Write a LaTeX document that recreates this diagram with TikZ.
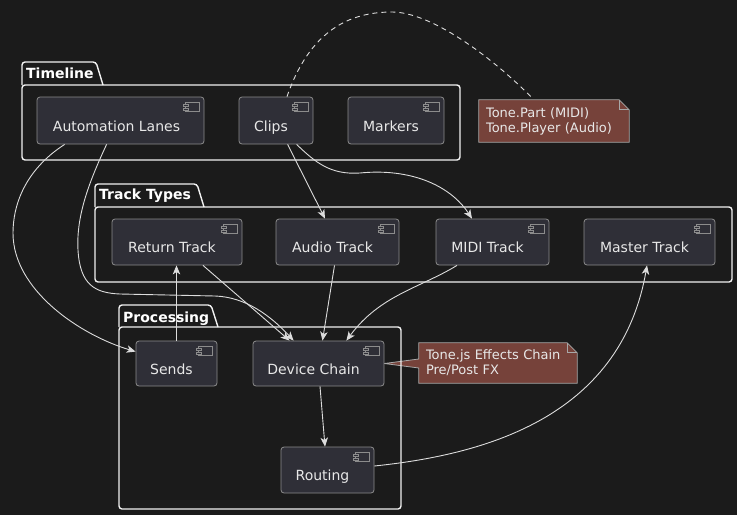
\documentclass[tikz,border=0pt]{standalone}
\usepackage{fontspec}
\setmainfont{DejaVu Sans}
\usetikzlibrary{arrows.meta,calc}
\definecolor{bgc}{HTML}{1B1B1B}
\definecolor{compfill}{HTML}{2F2F37}
\definecolor{compline}{HTML}{8C8C8C}
\definecolor{pkgline}{HTML}{F2F2F2}
\definecolor{edgec}{HTML}{DCDCDC}
\definecolor{notefill}{HTML}{76423A}
\definecolor{noteline}{HTML}{A8A8A8}
\definecolor{txtc}{HTML}{E8E8E8}
\pgfdeclarelayer{bglayer}
\pgfdeclarelayer{midlayer}
\pgfsetlayers{bglayer,midlayer,main}
\tikzset{
  comp/.style={draw=compline, fill=compfill, rounded corners=3pt, line width=0.8pt, inner sep=0pt},
  ctext/.style={text height=10pt, text depth=0pt, xshift=-5pt, yshift=-5.5pt, text=txtc, font=\fontsize{14}{16}\selectfont, inner sep=0pt},
  pkg/.style={draw=pkgline, line width=1.4pt, rounded corners=3pt},
  pkgtitle/.style={anchor=base west, inner sep=0pt, text=white, font=\fontsize{14}{16}\selectfont\bfseries},
  notetext/.style={inner xsep=7pt, inner ysep=0pt, align=left, text=txtc, font=\fontsize{13}{15}\selectfont},
  noteshape/.style={draw=noteline, fill=notefill, line width=0.8pt},
  edge/.style={draw=edgec, line width=0.9pt, -{Stealth[length=9pt,width=7.5pt,inset=2.5pt]}},
  link/.style={draw=edgec, line width=0.9pt, dash pattern=on 5pt off 4pt}
}
\newcommand\compicon[1]{%
  \draw[compline, line width=0.7pt, fill=compfill] ($(#1.north east)+(-19,6)$) rectangle ($(#1.north east)+(-5,15)$);
  \draw[compline, line width=0.7pt, fill=compfill] ($(#1.north east)+(-21.5,7.6)$) rectangle ($(#1.north east)+(-16.5,9.8)$);
  \draw[compline, line width=0.7pt, fill=compfill] ($(#1.north east)+(-21.5,11.3)$) rectangle ($(#1.north east)+(-16.5,13.5)$);
}
\begin{document}
\begin{tikzpicture}[x=1pt,y=-1pt]
\begin{pgfonlayer}{bglayer}
\fill[bgc] (0,0) rectangle (737,515);
\end{pgfonlayer}
\useasboundingbox (0,0) rectangle (737,515);

% packages
\draw[pkg] (22,85) -- (22,62) -- (96,62) -- (103,85);
\draw[pkg] (22,85) rectangle (460,160);
\node[pkgtitle] (ttl) at (26,78) {Timeline};

\draw[pkg] (95,207) -- (95,184) -- (197,184) -- (204,207);
\draw[pkg] (95,207) rectangle (732,282);
\node[pkgtitle] (ttt) at (99,199) {Track Types};

\draw[pkg] (119,327) -- (119,305) -- (211,305) -- (218,327);
\draw[pkg] (119,327) rectangle (401,509);
\node[pkgtitle] (tpr) at (123,322) {Processing};

% components
\node[comp, minimum width=167pt, minimum height=47pt, label={[ctext,xshift=1pt]center:Automation Lanes}] (al) at (120.5,120.5) {};
\node[comp, minimum width=74pt, minimum height=47pt, label={[ctext]center:Clips}] (clips) at (276,120.5) {};
\node[comp, minimum width=96pt, minimum height=47pt, label={[ctext]center:Markers}] (mark) at (396,120.5) {};

\node[comp, minimum width=130pt, minimum height=46pt, label={[ctext]center:Return Track}] (rt) at (177,242) {};
\node[comp, minimum width=123pt, minimum height=46pt, label={[ctext]center:Audio Track}] (at) at (337.5,242) {};
\node[comp, minimum width=113pt, minimum height=46pt, label={[ctext]center:MIDI Track}] (mt) at (492.5,242) {};
\node[comp, minimum width=131pt, minimum height=46pt, label={[ctext]center:Master Track}] (mst) at (649.5,242) {};

\node[comp, minimum width=81pt, minimum height=45pt, label={[ctext]center:Sends}] (sends) at (176.5,363.5) {};
\node[comp, minimum width=131pt, minimum height=45pt, label={[ctext]center:Device Chain}] (dc) at (318.5,363.5) {};
\node[comp, minimum width=93pt, minimum height=46pt, label={[ctext]center:Routing}] (rout) at (327.5,470) {};

\foreach \n in {al,clips,mark,rt,at,mt,mst,sends,dc,rout} {\compicon{\n}}

% edges
\draw[edge] ($(al.south west)+(28,0)$) .. controls (25,170) and (13,205) .. (13,233)
   .. controls (13,290) and (80,335) .. ($(sends.north west)+(0,11)$);
\draw[edge] ($(al.south west)+(70,0)$) .. controls (90,180) and (76,215) .. (78,250)
   .. controls (80,285) and (95,293) .. (120,294) -- (215,296)
   .. controls (245,297) and (270,315) .. ($(dc.north west)+(41,0)$);
\draw[edge] ($(clips.south west)+(49,0)$) -- ($(at.north)+(-12.5,0)$);
\draw[edge] ($(clips.south west)+(58,0)$) .. controls (315,162) and (330,175) .. (360,173)
   .. controls (410,168) and (450,185) .. ($(mt.north)+(-20.5,0)$);
\draw[edge] ($(rt.south)+(26,0)$) -- ($(dc.north west)+(37,0)$);
\draw[edge] ($(at.south)+(-3,0)$) -- ($(dc.north)+(4,0)$);
\draw[edge] ($(mt.south)+(-35.5,0)$) .. controls (420,288) and (380,295) .. ($(dc.north east)+(-38,0)$);
\draw[edge] (sends.north) -- (sends.north |- rt.south);
\draw[edge] ($(dc.south)+(1.5,0)$) -- ($(rout.north)+(-2.5,0)$);
\draw[edge] ($(rout.east)+(0,-4)$) .. controls (480,455) and (620,420) .. ($(mst.south)+(-2.5,0)$);

% notes
\node[notetext, text width=136pt, minimum height=42pt] (n1) at (554,121) {Tone.Part (MIDI)\\Tone.Player (Audio)};
\node[notetext, text width=144pt, minimum height=40pt] (n2) at (498,363) {Tone.js Effects Chain\\Pre/Post FX};
\begin{pgfonlayer}{midlayer}
\draw[noteshape] (n1.north west) -- ($(n1.north east)+(-10,0)$) -- ($(n1.north east)+(0,10)$) -- (n1.south east) -- (n1.south west) -- cycle;
\draw[noteline, line width=0.8pt] ($(n1.north east)+(-10,0)$) -- ($(n1.north east)+(-10,10)$) -- ($(n1.north east)+(0,10)$);
\draw[noteshape] (n2.north west) -- ($(n2.north east)+(-10,0)$) -- ($(n2.north east)+(0,10)$) -- (n2.south east) -- (n2.south west) -- ($(n2.west)+(0,5)$) -- (dc.east) -- ($(n2.west)+(0,-4)$) -- cycle;
\draw[noteline, line width=0.8pt] ($(n2.north east)+(-10,0)$) -- ($(n2.north east)+(-10,10)$) -- ($(n2.north east)+(0,10)$);
\end{pgfonlayer}
\draw[link] ($(clips.north)+(11,0)$) .. controls (310,30) and (350,12) .. (392,12)
   .. controls (430,12) and (490,55) .. ($(n1.north)+(-21,-1)$);
\end{tikzpicture}
\end{document}
